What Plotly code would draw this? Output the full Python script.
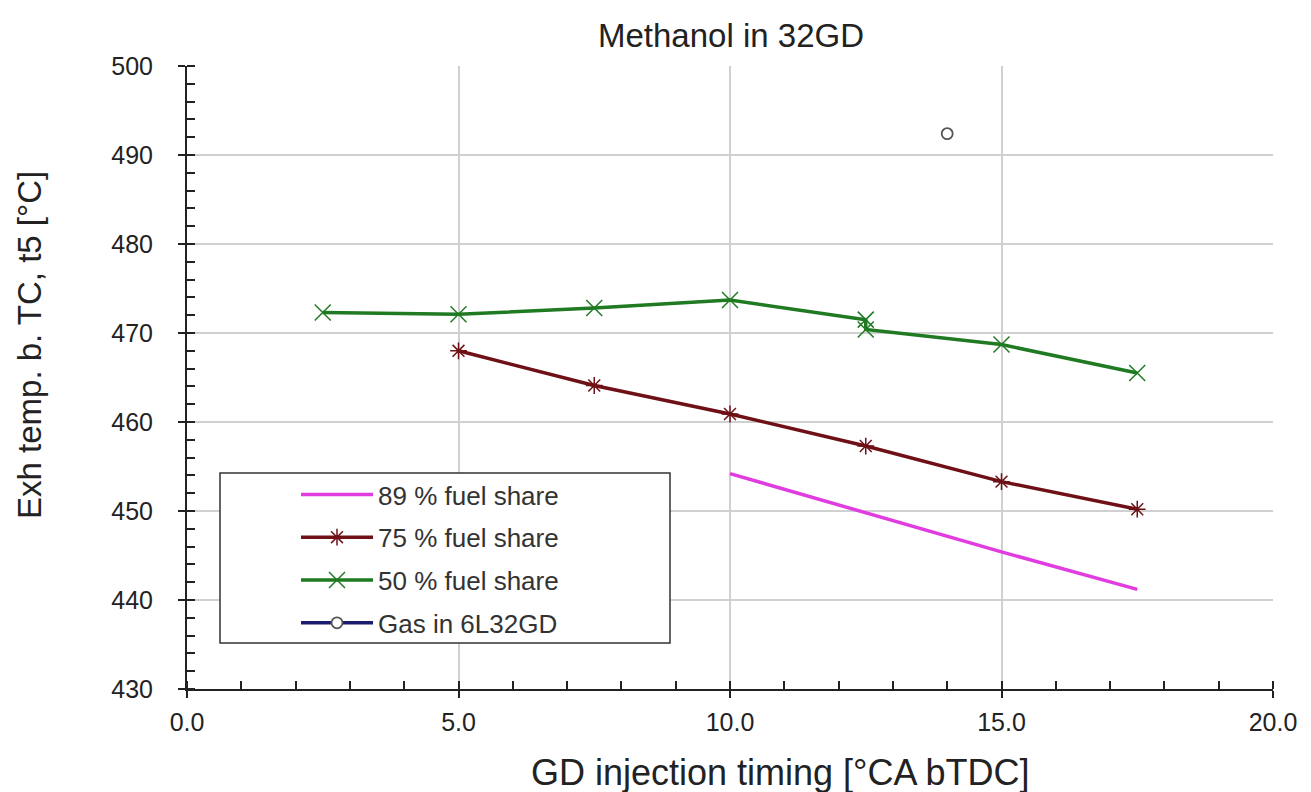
import plotly.graph_objects as go

# data
x89 = [10.0, 12.5, 15.0, 17.5]
y89 = [454.2, 449.8, 445.4, 441.2]
x75 = [5.0, 7.5, 10.0, 12.5, 15.0, 17.5]
y75 = [468.0, 464.1, 460.9, 457.3, 453.3, 450.2]
x50 = [2.5, 5.0, 7.5, 10.0, 12.5, 12.5, 15.0, 17.5]
y50 = [472.3, 472.1, 472.8, 473.7, 471.5, 470.4, 468.7, 465.5]
xgas = [14.0]
ygas = [492.4]
xticks = [0, 5, 10, 15, 20]
xticklabels = ["0.0", "5.0", "10.0", "15.0", "20.0"]

FONT = "Liberation Sans, Arial, sans-serif"

# plot area in page pixels (page has 8px body margin)
L, R, T, B = 179, 46, 58, 111
PX0, PX1, PY0, PY1 = 187, 1273, 66, 689
PW, PH = PX1 - PX0, PY1 - PY0


def px(x):
    return (x - PX0) / PW


def py(y):
    return (PY1 - y) / PH


fig = go.Figure()
fig.add_trace(go.Scatter(x=x89, y=y89, mode="lines", name="89 % fuel share",
                         line=dict(color="#E03CE0", width=3.5), legendgroup="a"))
fig.add_trace(go.Scatter(x=x75, y=y75, mode="lines+markers", name="75 % fuel share",
                         line=dict(color="#6E1016", width=3.5), legendgroup="b",
                         marker=dict(symbol="asterisk-open", size=14,
                                     line=dict(color="#9A7A80", width=1.5))))
fig.add_trace(go.Scatter(x=x50, y=y50, mode="lines+markers", name="50 % fuel share",
                         line=dict(color="#1F7A22", width=3.5), legendgroup="c",
                         marker=dict(symbol="x-thin-open", size=16,
                                     line=dict(color="#8CC690", width=1.5))))
fig.add_trace(go.Scatter(x=xgas, y=ygas, mode="lines+markers", name="Gas in 6L32GD",
                         line=dict(color="#1C1C6E", width=3.5), legendgroup="d",
                         marker=dict(symbol="circle", size=11, color="white",
                                     line=dict(color="#555555", width=1.8))))

# legend box
fig.add_shape(type="rect", xref="paper", yref="paper",
              x0=px(220), x1=px(670), y0=py(643), y1=py(473),
              fillcolor="white", line=dict(color="#333333", width=1.5), layer="above")

# axis titles
fig.add_annotation(text="GD injection timing [°CA bTDC]", xref="paper", yref="paper",
                   x=px(780), y=py(772), xanchor="center", yanchor="middle",
                   showarrow=False, font=dict(size=36, color="#222222"))
fig.add_annotation(text="Exh temp. b. TC, t5 [°C]", xref="paper", yref="paper",
                   x=px(29), y=py(345), xanchor="center", yanchor="middle",
                   textangle=-90, showarrow=False, font=dict(size=33, color="#222222"))

fig.update_layout(
    width=1311, height=792,
    margin=dict(l=L, r=R, t=T, b=B),
    paper_bgcolor="white", plot_bgcolor="white",
    font=dict(family=FONT, size=25, color="#222222"),
    title=dict(text="Methanol in 32GD", x=(731 - 8) / 1311, xanchor="center",
               y=1 - (35 - 8) / 792, yanchor="middle", font=dict(size=33, color="#222222")),
    legend=dict(x=px(296), y=py(471), xanchor="left", yanchor="top",
                bgcolor="rgba(0,0,0,0)", borderwidth=0,
                font=dict(size=26, color="#333333"), itemwidth=72,
                tracegroupgap=6),
    showlegend=True,
)
fig.update_xaxes(range=[0, 20], tickvals=xticks, ticktext=xticklabels,
                 showline=True, linecolor="#222222", linewidth=2,
                 ticks="outside", ticklen=7, tickwidth=2, tickcolor="#222222",
                 showgrid=True, gridcolor="#D0D0D0", gridwidth=1.5,
                 minor=dict(dtick=1, ticks="inside", ticklen=8, tickwidth=1.5,
                            tickcolor="#222222", showgrid=False),
                 zeroline=False, ticklabelstandoff=3)
fig.update_yaxes(range=[430, 500], dtick=10,
                 showline=True, linecolor="#222222", linewidth=2,
                 ticks="outside", ticklen=7, tickwidth=2, tickcolor="#222222",
                 showgrid=True, gridcolor="#D0D0D0", gridwidth=1.5,
                 minor=dict(dtick=2, ticks="inside", ticklen=8, tickwidth=1.5,
                            tickcolor="#222222", showgrid=False),
                 zeroline=False, ticklabelstandoff=20)

fig.write_html("out.html")
